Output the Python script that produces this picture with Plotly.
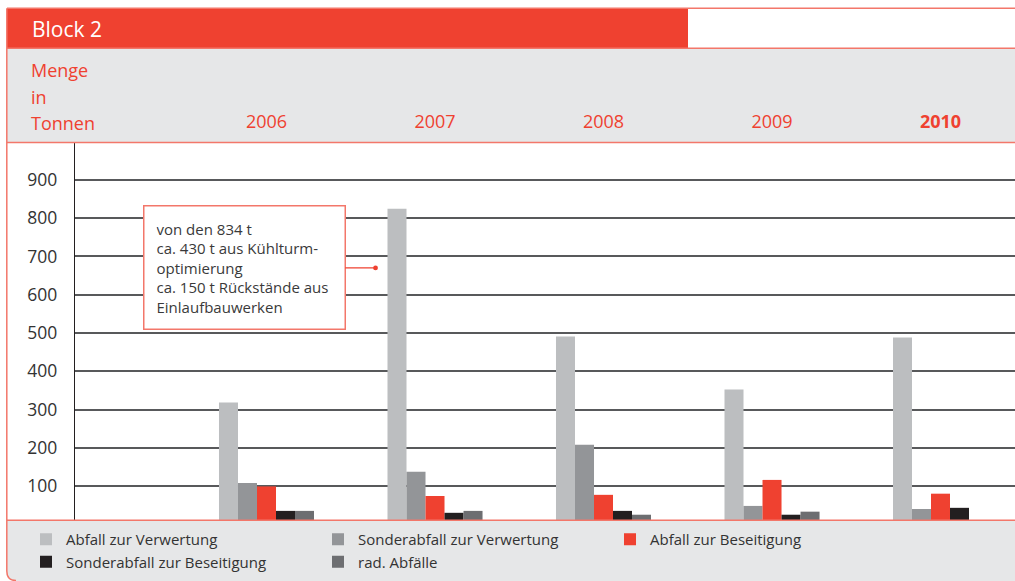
import plotly.graph_objects as go

# ---------------- data ----------------
years = ["2006", "2007", "2008", "2009", "2010"]
year_labels = ["2006", "2007", "2008", "2009", "<b>2010</b>"]

series_names = [
    "Abfall zur Verwertung",
    "Sonderabfall zur Verwertung",
    "Abfall zur Beseitigung",
    "Sonderabfall zur Beseitigung",
    "rad. Abfälle",
]
abfall_verwertung = [318, 825, 491, 352, 488]
sonderabfall_verwertung = [108, 137, 208, 48, 40]
abfall_beseitigung = [99, 74, 77, 116, 80]
sonderabfall_beseitigung = [35, 30, 35, 25, 43]
rad_abfaelle = [35, 35, 25, 33, 0]
series_values = [abfall_verwertung, sonderabfall_verwertung, abfall_beseitigung,
                 sonderabfall_beseitigung, rad_abfaelle]
series_colors = ["#BCBEC0", "#939598", "#EF4130", "#231F20", "#6D6E71"]

y_ticks = [100, 200, 300, 400, 500, 600, 700, 800, 900]

note_lines = ["von den 834 t", "ca. 430 t aus Kühlturm-", "optimierung",
              "ca. 150 t Rückstände aus", "Einlaufbauwerken"]
note_year = "2007"
note_value = 670

# ---------------- layout helpers ----------------
FW, FH = 1015, 581
ML, MR, MT, MB = 75, 0, 143, 61
PW, PH = FW - ML - MR, FH - MT - MB   # 940 x 377


def fx(px):   # pixel -> paper x
    return (px - ML) / PW


def fy(py):   # pixel -> paper y
    return (FH - MB - py) / PH


RED = "#EF4130"
LINE_RED = "#F3776A"
BAND = "#E6E7E8"
TXT = "#333333"
FONT = "Open Sans"

fig = go.Figure()
for name, vals, col in zip(series_names, series_values, series_colors):
    fig.add_trace(go.Bar(x=years, y=vals, name=name, marker=dict(color=col, line=dict(width=0))))

shapes = [
    # header red block
    dict(type="rect", xref="paper", yref="paper", x0=fx(7), x1=fx(688), y0=fy(8), y1=fy(48),
         fillcolor=RED, line=dict(width=0), layer="below"),
    # grey header band
    dict(type="rect", xref="paper", yref="paper", x0=fx(7), x1=fx(1015), y0=fy(48), y1=fy(142.5),
         fillcolor=BAND, line=dict(width=0), layer="below"),
    # legend band with rounded corner
    dict(type="path", xref="paper", yref="paper",
         path=(f"M {fx(7)},{fy(520)} L {fx(1015)},{fy(520)} L {fx(1015)},{fy(581)} "
               f"L {fx(16)},{fy(581)} Q {fx(7)},{fy(581)} {fx(7)},{fy(572)} Z"),
         fillcolor=BAND, line=dict(width=0), layer="below"),
    # thin red border lines
    dict(type="line", xref="paper", yref="paper", x0=fx(7), x1=fx(1015), y0=fy(8.3), y1=fy(8.3),
         line=dict(color=LINE_RED, width=1.5), layer="above"),
    dict(type="line", xref="paper", yref="paper", x0=fx(7), x1=fx(1015), y0=fy(48.3), y1=fy(48.3),
         line=dict(color=LINE_RED, width=1.5), layer="above"),
    dict(type="line", xref="paper", yref="paper", x0=fx(7), x1=fx(1015), y0=fy(142.5), y1=fy(142.5),
         line=dict(color=LINE_RED, width=1.5), layer="above"),
    dict(type="line", xref="paper", yref="paper", x0=fx(7), x1=fx(1015), y0=fy(520.3), y1=fy(520.3),
         line=dict(color=LINE_RED, width=1.5), layer="above"),
    dict(type="path", xref="paper", yref="paper",
         path=(f"M {fx(6.8)},{fy(8.3)} L {fx(6.8)},{fy(571)} Q {fx(6.8)},{fy(580.5)} {fx(16)},{fy(580.5)}"),
         line=dict(color=LINE_RED, width=1.5), layer="above"),
]

annotations = [
    dict(text="Block 2", xref="paper", yref="paper", x=fx(30), y=fy(29), xanchor="left",
         yanchor="middle", showarrow=False, font=dict(family=FONT, size=21, color="white")),
    dict(text="Menge", xref="paper", yref="paper", x=fx(29), y=fy(70), xanchor="left",
         yanchor="middle", showarrow=False, font=dict(family=FONT, size=18, color=RED)),
    dict(text="in", xref="paper", yref="paper", x=fx(29), y=fy(97), xanchor="left",
         yanchor="middle", showarrow=False, font=dict(family=FONT, size=18, color=RED)),
    dict(text="Tonnen", xref="paper", yref="paper", x=fx(29), y=fy(123), xanchor="left",
         yanchor="middle", showarrow=False, font=dict(family=FONT, size=18, color=RED)),
    # note box with connector dot
    dict(text="<br>".join(note_lines), xref="x", yref="y",
         x=years.index(note_year) - 0.353, y=note_value,
         ax=-131, ay=0, showarrow=True, arrowhead=6, arrowsize=1, arrowwidth=1.2,
         arrowcolor=RED, align="left", width=176, borderpad=12, borderwidth=1.5,
         bordercolor=LINE_RED, bgcolor="white",
         font=dict(family=FONT, size=15, color="#3A3A3A")),
]

fig.update_layout(
    width=FW, height=FH,
    margin=dict(l=ML, r=MR, t=MT, b=MB, pad=0),
    paper_bgcolor="white", plot_bgcolor="white",
    font=dict(family=FONT, color=TXT),
    barmode="group", bargap=0.436, bargroupgap=0,
    showlegend=True,
    legend=dict(orientation="h", x=fx(26), y=fy(523), xanchor="left", yanchor="top",
                xref="paper", yref="paper", entrywidth=247, entrywidthmode="pixels",
                font=dict(family=FONT, size=15, color=TXT), bgcolor="rgba(0,0,0,0)",
                traceorder="normal", tracegroupgap=0),
    xaxis=dict(type="category", range=[-1.1365, 4.442], side="top",
               tickmode="array", tickvals=years, ticktext=year_labels,
               ticks="outside", ticklen=7, tickcolor="rgba(0,0,0,0)",
               tickfont=dict(family=FONT, size=18, color=RED),
               showgrid=False, showline=False, zeroline=False),
    yaxis=dict(range=[11.2, 996.6], tickmode="array", tickvals=y_ticks,
               showgrid=True, gridcolor="#58595B", gridwidth=1.5,
               showline=True, linecolor="#231F20", linewidth=1.3,
               ticks="outside", ticklen=13, tickcolor="rgba(0,0,0,0)",
               tickfont=dict(family=FONT, size=17.5, color=TXT),
               zeroline=False),
    shapes=shapes,
    annotations=annotations,
)

fig.write_html(
    "out.html",
    config={"displayModeBar": False},
    post_script="document.body.style.margin='0';document.body.style.overflow='hidden';",
)
